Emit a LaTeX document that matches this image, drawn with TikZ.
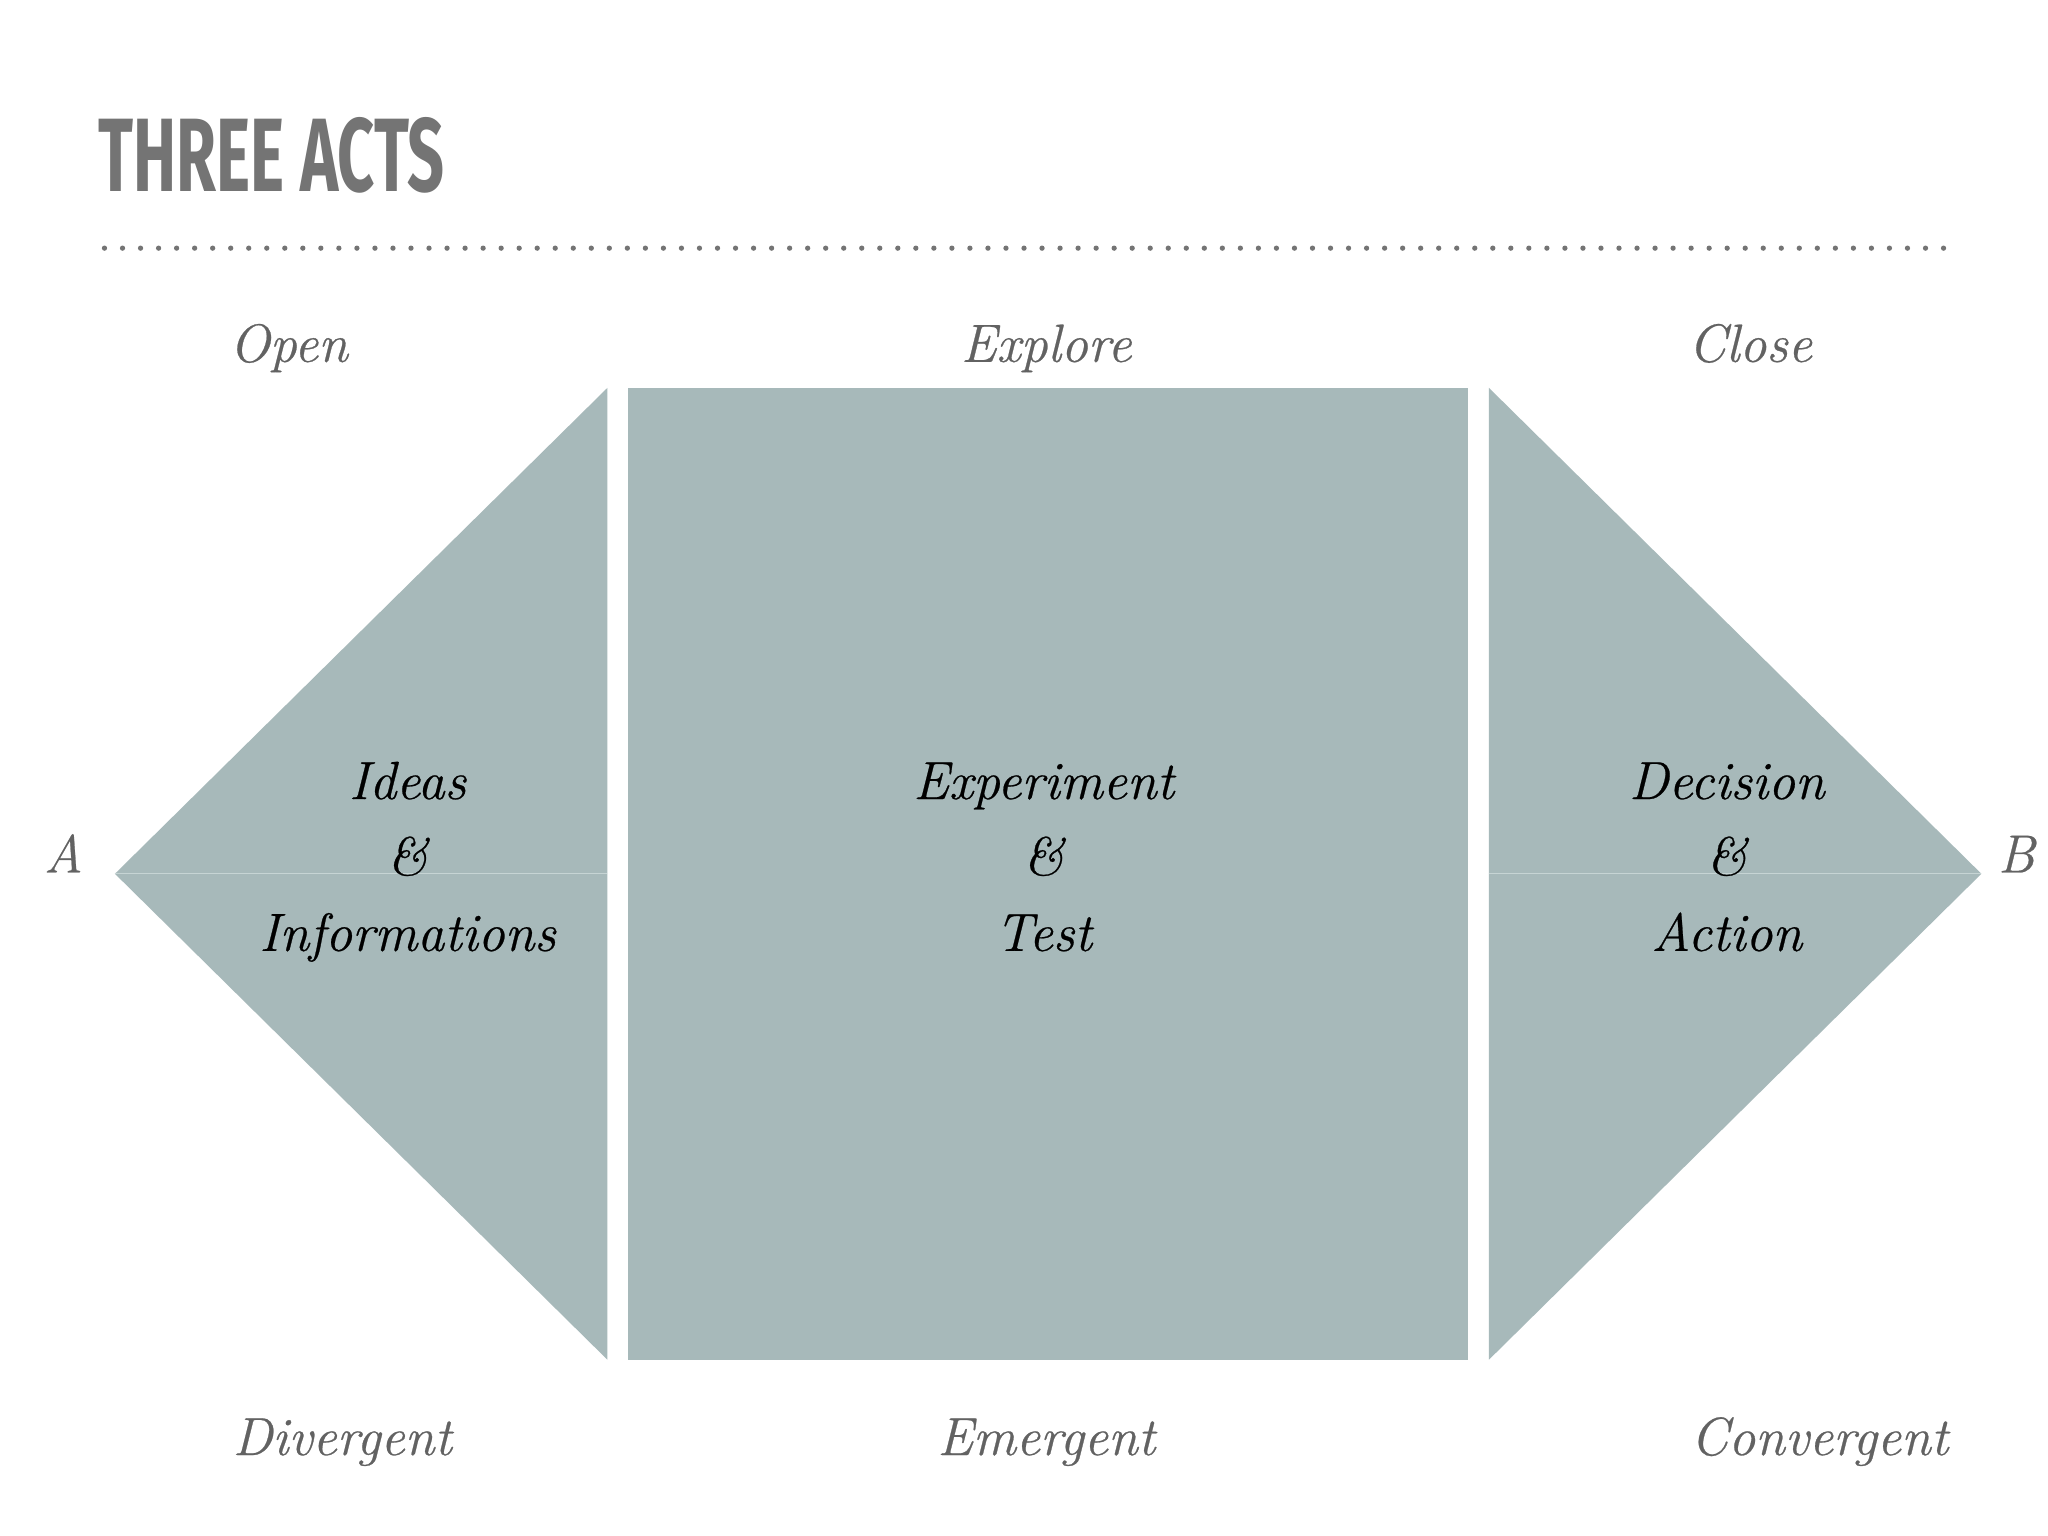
\documentclass[tikz,border=0pt]{standalone}
\usepackage{fontspec}
\newfontfamily\titlefont[FakeStretch=0.62]{Fira Sans}
\newfontfamily\actfont[FakeBold=0.45]{Latin Modern Roman}
\usetikzlibrary{positioning}
\definecolor{actfill}{HTML}{A7B9BA}
\definecolor{seam}{HTML}{C6D4D4}
\definecolor{labelgray}{HTML}{626262}
\definecolor{titlegray}{HTML}{747474}

\begin{document}
\begin{tikzpicture}[x=0.013061cm,y=-0.013061cm,
	act/.style={fill=actfill},
	phase/.style={font=\actfont\fontsize{15.3}{18}\selectfont\itshape,text=labelgray,anchor=base,inner sep=0pt},
	actname/.style={font=\actfont\fontsize{15.3}{21.6}\selectfont\itshape,align=center,anchor=base,inner sep=0pt},
	dotline/.style={titlegray,line width=1.5pt,dash pattern=on 0pt off 5.13pt,line cap=round}]
		\useasboundingbox (0,0) rectangle (1568,1176);
		\fill[white] (0,0) rectangle (1568,1176);
		
		\node[anchor=base west,inner sep=0pt,text=titlegray,font=\titlefont\fontsize{29.7}{30}\selectfont\bfseries] (title) at (75,147) {THREE ACTS};
		\draw[dotline] (80,190) -- (1490,190);
		
		% corners of the three acts
		\coordinate (A) at (88,669);
		\coordinate (B) at (1517,669);
		\coordinate (lt) at (465,297);
		\coordinate (lb) at (465,1041);
		\coordinate (rt) at (1140,297);
		\coordinate (rb) at (1140,1041);
		
		\fill[act] (A) -- (lt) -- (lb) -- cycle;
		\fill[act] (481,297) rectangle (1124,1041);
		\fill[act] (rt) -- (B) -- (rb) -- cycle;
		\draw[seam,line width=0.4pt] (A) -- (465,669);
		\draw[seam,line width=0.4pt] (1140,669) -- (B);
		
		\node[phase,anchor=base east] (labA) at (64,668) {A};
		\node[phase,anchor=base west] (labB) at (1529,668) {B};
		
		\node[phase] (open) at (221,277) {Open};
		\node[phase] (explore) at (801,277) {Explore};
		\node[phase] (close) at (1340,277) {Close};
		
		% base of these is the last line
		\node[actname] (ideas) at (312,728) {Ideas\\\&\\Informations};
		\node[actname] (experiment) at (799,728) {Experiment\\\&\\Test};
		\node[actname] (decision) at (1322,728) {Decision\\\&\\Action};
		
		\node[phase] (divergent) at (262,1114) {Divergent};
		\node[phase] (emergent) at (801,1114) {Emergent};
		\node[phase] (convergent) at (1393,1114) {Convergent};
\end{tikzpicture}
\end{document}
